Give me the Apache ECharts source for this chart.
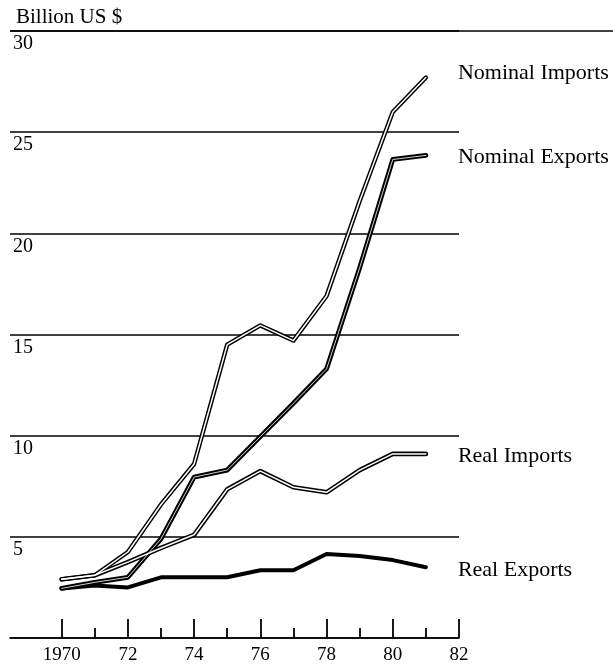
<!DOCTYPE html>
<html style="height: 100%">
    <head>
        <meta charset="utf-8">
    </head>
    <body style="height: 100%; margin: 0; background: #fff">
        <div id="container" style="height: 100%"></div>
        <script type="text/javascript" src="https://cdn.jsdelivr.net/npm/echarts@6/dist/echarts.min.js"></script>
        <script type="text/javascript">

// data (billion US $)
var years = [1970, 1971, 1972, 1973, 1974, 1975, 1976, 1977, 1978, 1979, 1980, 1981];
var nominalImports = [2.9, 3.1, 4.25, 6.6, 8.6, 14.5, 15.45, 14.7, 16.9, 21.6, 26.0, 27.7];
var nominalExports = [2.45, 2.75, 3.0, 4.9, 7.95, 8.3, 9.95, 11.6, 13.3, 18.3, 23.65, 23.85];
var realImports = [2.9, 3.1, 3.75, 4.45, 5.1, 7.35, 8.25, 7.45, 7.2, 8.3, 9.1, 9.1];
var realExports = [2.45, 2.6, 2.5, 3.0, 3.0, 3.0, 3.35, 3.35, 4.15, 4.05, 3.85, 3.5];

var majorYears = [1970, 1972, 1974, 1976, 1978, 1980, 1982];
var majorLabels = ['1970', '72', '74', '76', '78', '80', '82'];
var minorYears = [1971, 1973, 1975, 1977, 1979, 1981];

var serif = 'Liberation Serif';

var dom = document.getElementById("container");
var myChart = echarts.init(dom);

function pairs(arr) {
    return years.map(function (y, i) { return [y, arr[i]]; });
}

// outer black stroke, with an optional thin white core for the "hollow" lines
function lineSeries(name, arr, width, core, labelOffset) {
    var list = [{
        name: name,
        type: 'line',
        data: pairs(arr),
        symbol: 'none',
        z: 3,
        lineStyle: { color: '#000', width: width, cap: 'round', join: 'round' },
        endLabel: {
            show: true,
            formatter: '{a}',
            distance: 32,
            offset: labelOffset || [0, 0],
            color: '#000',
            fontFamily: serif,
            fontSize: 22
        }
    }];
    if (core) {
        list.push({
            name: name + '-core',
            type: 'line',
            data: pairs(arr),
            symbol: 'none',
            silent: true,
            z: 4,
            lineStyle: { color: '#fff', width: core, cap: 'round', join: 'round' }
        });
    }
    return list;
}

var option = {
    animation: false,
    title: {
        text: 'Billion US $',
        left: 11,
        top: 2,
        textStyle: { fontFamily: serif, fontSize: 21, fontWeight: 'normal', color: '#000' }
    },
    grid: { left: 10, right: 154, top: 31, bottom: 28 },
    xAxis: [{
        type: 'value',
        min: 1968.44,
        max: 1982,
        axisLine: { lineStyle: { color: '#000', width: 1.5 } },
        axisTick: { inside: true, length: 19, customValues: majorYears, lineStyle: { color: '#000', width: 1.8 } },
        axisLabel: {
            customValues: majorYears,
            margin: 8,
            color: '#000',
            fontFamily: serif,
            fontSize: 19,
            formatter: function (v) { return majorLabels[majorYears.indexOf(v)]; }
        },
        splitLine: { show: false }
    }, {
        type: 'value',
        min: 1968.44,
        max: 1982,
        position: 'bottom',
        axisLine: { show: false },
        axisTick: { inside: true, length: 10, customValues: minorYears, lineStyle: { color: '#000', width: 1.8 } },
        axisLabel: { show: false },
        splitLine: { show: false }
    }],
    yAxis: {
        type: 'value',
        min: 0,
        max: 30,
        interval: 5,
        axisLine: { show: false },
        axisTick: { show: false },
        axisLabel: {
            inside: true,
            verticalAlign: 'top',
            margin: 3,
            padding: [3, 0, 0, 0],
            color: '#000',
            fontFamily: serif,
            fontSize: 20,
            formatter: function (v) { return v === 0 ? '' : String(v); }
        },
        splitLine: { lineStyle: { color: '#000', width: 1.5 } }
    },
    graphic: [{
        type: 'line',
        shape: { x1: 10, y1: 31, x2: 613, y2: 31 },
        style: { stroke: '#000', lineWidth: 1.5 }
    }],
    series: [].concat(
        lineSeries('Real Exports', realExports, 4, 0, [0, 3]),
        lineSeries('Real Imports', realImports, 4.6, 1.5, [0, 2]),
        lineSeries('Nominal Exports', nominalExports, 4.8, 0.8, [0, 2]),
        lineSeries('Nominal Imports', nominalImports, 4.4, 1.5, [0, -4])
    )
};

myChart.setOption(option);

        </script>
    </body>
</html>
